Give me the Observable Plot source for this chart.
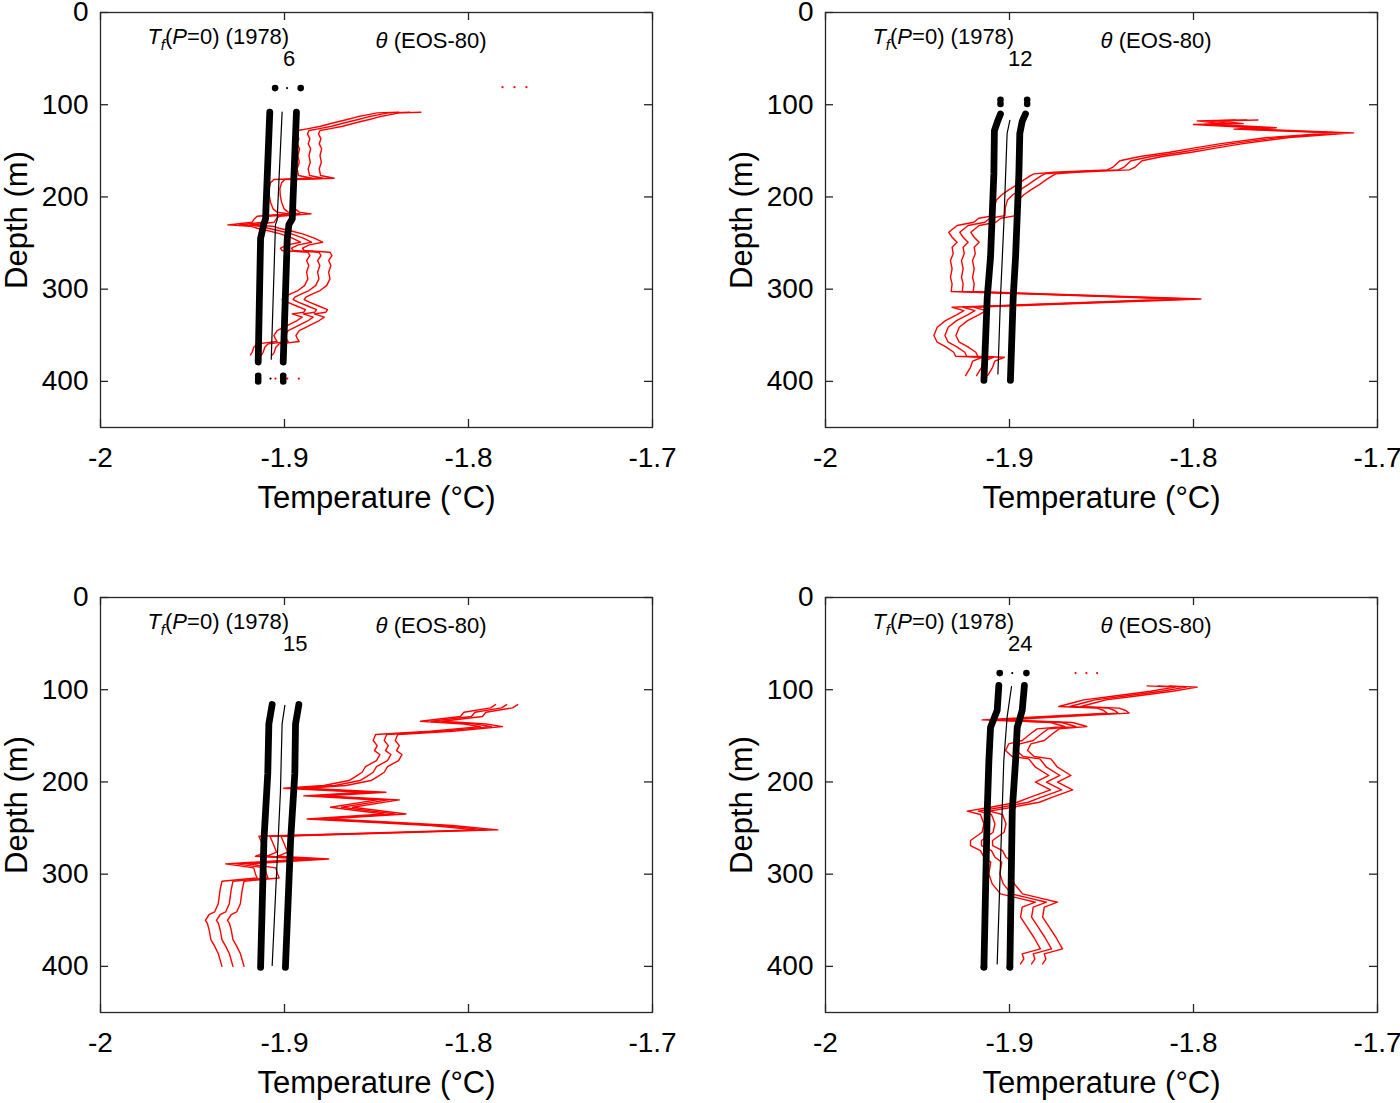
<!DOCTYPE html>
<html>
<head>
<meta charset="utf-8">
<script src="https://cdn.jsdelivr.net/npm/d3@7"></script>
<script src="https://cdn.jsdelivr.net/npm/@observablehq/plot@0.6"></script>
<style>
  body { margin: 0; background: #fff; }
  #wrap { position: relative; width: 1400px; height: 1103px; overflow: hidden; background: #fff;
          font-family: "Liberation Sans", Arial, sans-serif; }
  .panel { position: absolute; }
  .panel svg { max-width: none !important; display: block; }
</style>
</head>
<body>
<div id="wrap"></div>
<script>
// ---------- axis ticks ----------
const xTicks = [-2, -1.9, -1.8, -1.7];
const yTicks = [0, 100, 200, 300, 400];
const panelLabels = ["6", "12", "15", "24"];

// offsets between the three red θ copies (°C)
const thetaOffsets = [0, 0.006, 0.012];

// ---------- panel 6 ----------  [depth (m), temperature (°C)]
const theta6 = [
  [108.1,-1.8379],[108.8,-1.8496],[111.0,-1.8551],[113.1,-1.8605],[116.0,-1.8659],[119.6,-1.8732],
  [123.3,-1.8804],[126.2,-1.8877],[128.0,-1.8927],[131.6,-1.8935],[137.0,-1.8922],[142.4,-1.8931],
  [147.8,-1.8918],[155.1,-1.8927],[162.3,-1.8920],[169.5,-1.8931],[176.8,-1.8924],[179.7,-1.8850],
  [181.1,-1.9058],[184.7,-1.9076],[191.2,-1.9085],[198.5,-1.9083],[205.7,-1.9076],[212.9,-1.9062],
  [216.5,-1.9040],[218.3,-1.8976],[220.9,-1.9149],[224.5,-1.9167],[227.4,-1.9176],[230.3,-1.9308],
  [231.7,-1.9185],[233.9,-1.9149],[236.4,-1.9094],[240.0,-1.9022],[244.7,-1.8958],[249.1,-1.8913],
  [252.0,-1.8985],[255.6,-1.9022],[258.1,-1.9013],[259.9,-1.8873],[263.5,-1.8862],[269.0,-1.8880],
  [274.4,-1.8868],[281.6,-1.8880],[288.8,-1.8873],[296.1,-1.8891],[301.5,-1.8927],[305.1,-1.8967],
  [308.7,-1.9004],[311.3,-1.9013],[314.1,-1.8985],[318.5,-1.8931],[322.1,-1.8886],[325.0,-1.8895],
  [326.8,-1.8958],[330.4,-1.8904],[334.0,-1.8931],[337.6,-1.8967],[341.3,-1.9004],[344.9,-1.9040],
  [350.3,-1.9058],[353.9,-1.9049],[356.8,-1.9040],[359.3,-1.9149],[363.0,-1.9167],[368.4,-1.9176],
  [371.3,-1.9185]
];
const tfLeft6  = [[108,-1.9080],[224,-1.9103],[229,-1.9112],[245,-1.9130],[379,-1.9143]];
const tfRight6 = [[108,-1.8935],[224,-1.8958],[230,-1.8976],[245,-1.8985],[379,-1.9007]];
const tfMid6   = [[108,-1.9013],[225,-1.9040],[230,-1.9049],[376,-1.9072]];
const bigDots6   = [[82,-1.9051],[82,-1.8912],[394,-1.9143],[397,-1.9143],[400,-1.9143],[394,-1.9007],[397,-1.9007],[400,-1.9007]];
const smallDots6 = [[82,-1.8986],[397,-1.9076]];
const redDots6   = [[81,-1.7815],[81,-1.7750],[81,-1.7685],[397,-1.9049],[397,-1.8985],[397,-1.8922]];

// ---------- panel 12 ----------
const theta12 = [
  [116.5,-1.7770],[117.5,-1.7980],[120.5,-1.7850],[121.5,-1.8000],[125.0,-1.7670],[126.5,-1.7780],
  [130.5,-1.7250],[135.6,-1.7600],[142.4,-1.7860],[147.0,-1.8000],[151.5,-1.8130],[156.2,-1.8290],
  [160.8,-1.8400],[168.0,-1.8440],[170.6,-1.8469],[173.2,-1.8759],[175.0,-1.8868],[176.8,-1.8886],
  [181.5,-1.8922],[186.6,-1.8958],[192.3,-1.9004],[197.4,-1.9040],[203.2,-1.9071],[211.1,-1.9082],
  [220.2,-1.9085],[223.1,-1.9167],[227.4,-1.9194],[231.0,-1.9285],[238.3,-1.9330],[243.7,-1.9312],
  [249.1,-1.9285],[254.5,-1.9312],[261.7,-1.9306],[269.0,-1.9321],[278.0,-1.9312],[287.1,-1.9321],
  [294.3,-1.9312],[302.6,-1.9317],[310.6,-1.8080],[319.6,-1.9312],[323.2,-1.9248],[327.6,-1.9285],
  [334.1,-1.9348],[341.3,-1.9393],[350.3,-1.9411],[357.5,-1.9393],[362.3,-1.9348],[368.4,-1.9303],
  [372.7,-1.9293],[373.8,-1.9148],[378.0,-1.9200],[384.7,-1.9212],[393.7,-1.9239]
];
const tfLeft12  = [[110,-1.9049],[117,-1.9063],[128,-1.9082],[175,-1.9085],[265,-1.9103],[309,-1.9121],[399,-1.9139]];
const tfRight12 = [[110,-1.8913],[118,-1.8931],[131,-1.8944],[175,-1.8949],[265,-1.8967],[309,-1.8980],[399,-1.8995]];
const tfMid12   = [[117,-1.8998],[131,-1.9013],[230,-1.9031],[309,-1.9049],[392,-1.9063]];
const bigDots12   = [[94.7,-1.9049],[99.1,-1.9049],[94.7,-1.8904],[99.1,-1.8904]];
const smallDots12 = [];
const redDots12   = [];

// ---------- panel 15 ----------
const theta15 = [
  [116.1,-1.7853],[119.7,-1.7880],[124.4,-1.8025],[129.1,-1.8044],[134.2,-1.8261],[137.1,-1.8025],
  [140.0,-1.7935],[145.0,-1.8207],[148.6,-1.8505],[155.1,-1.8518],[160.6,-1.8496],[166.0,-1.8511],
  [170.3,-1.8482],[176.8,-1.8500],[183.3,-1.8560],[189.5,-1.8578],[194.2,-1.8614],[198.5,-1.8650],
  [203.9,-1.8786],[206.8,-1.9004],[211.2,-1.8569],[215.1,-1.8895],[219.5,-1.8496],[227.4,-1.8750],
  [234.7,-1.8460],[240.1,-1.8877],[243.7,-1.8533],[247.3,-1.8207],[252.0,-1.7960],[258.9,-1.9139],
  [267.2,-1.9121],[276.2,-1.9103],[280.6,-1.9158],[283.5,-1.8880],[288.9,-1.9320],[293.2,-1.9167],
  [299.7,-1.9158],[304.1,-1.9149],[307.7,-1.9340],[317.0,-1.9350],[332.0,-1.9360],[341.0,-1.9380],
  [344.0,-1.9410],[350.0,-1.9430],[353.0,-1.9420],[360.0,-1.9410],[371.0,-1.9400],[378.0,-1.9380],
  [386.0,-1.9360],[400.0,-1.9340]
];
const tfLeft15  = [[116,-1.9067],[137,-1.9085],[191,-1.9091],[264,-1.9112],[401,-1.9130]];
const tfRight15 = [[116,-1.8922],[137,-1.8940],[191,-1.8944],[264,-1.8967],[401,-1.8995]];
const tfMid15   = [[117,-1.8998],[137,-1.9013],[210,-1.9022],[399,-1.9067]];
const bigDots15   = [];
const smallDots15 = [];
const redDots15   = [];

// ---------- panel 24 ----------
const theta24 = [
  [95.8,-1.8252],[97.2,-1.8100],[101.6,-1.8234],[107.3,-1.8451],[111.0,-1.8596],[113.9,-1.8650],
  [118.2,-1.8732],[120.0,-1.8524],[122.5,-1.8488],[125.4,-1.8470],[132.7,-1.9149],[135.5,-1.8777],
  [139.9,-1.8700],[142.4,-1.8850],[147.8,-1.8886],[155.1,-1.8931],[158.7,-1.9004],[165.9,-1.9022],
  [172.4,-1.8986],[175.0,-1.8895],[184.0,-1.8859],[193.0,-1.8786],[200.3,-1.8859],[208.6,-1.8777],
  [216.5,-1.8886],[222.0,-1.8958],[227.4,-1.9103],[231.7,-1.9230],[235.3,-1.9158],[245.4,-1.9139],
  [254.5,-1.9149],[263.5,-1.9212],[269.0,-1.9212],[274.4,-1.9158],[281.6,-1.9139],[287.0,-1.9102],
  [299.7,-1.9112],[310.5,-1.9094],[321.4,-1.9049],[325.7,-1.8958],[330.4,-1.8859],[335.8,-1.8931],
  [346.7,-1.8940],[357.5,-1.8904],[368.4,-1.8868],[381.0,-1.8832],[386.5,-1.8931],[391.9,-1.8922],
  [397.3,-1.8940]
];
const tfLeft24  = [[95.4,-1.9058],[122.5,-1.9067],[140.6,-1.9103],[176.8,-1.9112],[231,-1.9121],[400.9,-1.9139]];
const tfRight24 = [[95.4,-1.8919],[122.5,-1.8931],[140.6,-1.8958],[176.8,-1.8967],[231,-1.8985],[400.9,-1.8998]];
const tfMid24   = [[96.5,-1.8989],[129.8,-1.9013],[176.8,-1.9031],[397.3,-1.9067]];
const bigDots24   = [[82,-1.9053],[82,-1.8908],[401,-1.9139],[401,-1.8998]];
const smallDots24 = [[82,-1.8985]];
const redDots24   = [[82,-1.8641],[82,-1.8582],[82,-1.8524]];

// ---------- layout ----------
const panels = [
  {label: panelLabels[0], left: 0,   top: 0,   theta: theta6,  tfL: tfLeft6,  tfR: tfRight6,  tfM: tfMid6,  big: bigDots6,  small: smallDots6,  red: redDots6},
  {label: panelLabels[1], left: 725, top: 0,   theta: theta12, tfL: tfLeft12, tfR: tfRight12, tfM: tfMid12, big: bigDots12, small: smallDots12, red: redDots12},
  {label: panelLabels[2], left: 0,   top: 585, theta: theta15, tfL: tfLeft15, tfR: tfRight15, tfM: tfMid15, big: bigDots15, small: smallDots15, red: redDots15},
  {label: panelLabels[3], left: 725, top: 585, theta: theta24, tfL: tfLeft24, tfR: tfRight24, tfM: tfMid24, big: bigDots24, small: smallDots24, red: redDots24}
];

const FONT = '"Liberation Sans", Arial, Helvetica, sans-serif';
const AX = "#262626";
const X = d => d[1], Y = d => d[0];

function makePanel(p) {
  const W = 675, H = 518, mL = 100, mR = 23, mT = 12, mB = 91;
  const pw = W - mL - mR, ph = H - mT - mB, tl = 8;
  const red = [];
  thetaOffsets.forEach((o, k) => p.theta.forEach(([d, t]) => red.push({copy: k, depth: d, temp: t + o})));

  const svg = Plot.plot({
    width: W, height: H, marginLeft: mL, marginRight: mR, marginTop: mT, marginBottom: mB,
    style: {fontFamily: FONT, fontSize: "28px", color: "#000", background: "#fff", overflow: "visible", maxWidth: "none"},
    x: {domain: [-2, -1.7], ticks: xTicks, tickSize: 0, tickPadding: 20, tickFormat: d => String(d), label: null},
    y: {domain: [0, 450], reverse: true, ticks: yTicks, tickSize: 0, tickPadding: 12, tickFormat: d => String(d), label: null},
    marks: [
      Plot.line(red, {x: "temp", y: "depth", z: "copy", stroke: "#ff0000", strokeWidth: 1.4}),
      Plot.dot(p.red, {x: X, y: Y, r: 1.1, fill: "#ff0000", stroke: null}),
      Plot.line(p.tfM, {x: X, y: Y, stroke: "#000", strokeWidth: 1.2}),
      Plot.line(p.tfL, {x: X, y: Y, stroke: "#000", strokeWidth: 6.8, strokeLinecap: "round", strokeLinejoin: "round"}),
      Plot.line(p.tfR, {x: X, y: Y, stroke: "#000", strokeWidth: 6.8, strokeLinecap: "round", strokeLinejoin: "round"}),
      Plot.dot(p.big, {x: X, y: Y, r: 3.3, fill: "#000", stroke: null}),
      Plot.dot(p.small, {x: X, y: Y, r: 1.1, fill: "#000", stroke: null}),
      Plot.frame({stroke: AX, strokeWidth: 1.3}),
      Plot.tickX(xTicks, {x: d => d, stroke: AX, strokeWidth: 1.3, insetTop: ph - tl}),
      Plot.tickX(xTicks, {x: d => d, stroke: AX, strokeWidth: 1.3, insetBottom: ph - tl}),
      Plot.tickY(yTicks, {y: d => d, stroke: AX, strokeWidth: 1.3, insetRight: pw - tl}),
      Plot.tickY(yTicks, {y: d => d, stroke: AX, strokeWidth: 1.3, insetLeft: pw - tl}),
      Plot.text(["Tf(P=0) (1978)"], {x: -1.9745, y: 26, text: d => d, textAnchor: "start", fontSize: 22, fill: "#000", className: "tflab"}),
      Plot.text(["θ (EOS-80)"], {x: -1.8505, y: 31, text: d => d, textAnchor: "start", fontSize: 22, fill: "#000", className: "thlab"}),
      Plot.text([p.label], {x: -1.9008, y: 50, text: d => d, textAnchor: "start", fontSize: 22, fill: "#000"}),
      Plot.text(["Temperature (°C)"], {frameAnchor: "bottom", dy: 71, text: d => d, textAnchor: "middle", lineAnchor: "middle", fontSize: 31, fill: "#000"}),
      Plot.text(["Depth (m)"], {frameAnchor: "left", dx: -83, rotate: -90, text: d => d, textAnchor: "middle", lineAnchor: "middle", fontSize: 31, fill: "#000"})
    ]
  });

  // rich text: italic T with subscript f, italic P; italic θ
  svg.querySelectorAll("g.tflab text").forEach(el => {
    el.textContent = "";
    el.innerHTML = '<tspan font-style="italic">T</tspan><tspan font-style="italic" font-size="15" dy="6">f</tspan>' +
                   '<tspan dy="-6">(</tspan><tspan font-style="italic">P</tspan><tspan>=0) (1978)</tspan>';
  });
  svg.querySelectorAll("g.thlab text").forEach(el => {
    el.textContent = "";
    el.innerHTML = '<tspan font-style="italic">θ</tspan><tspan> (EOS-80)</tspan>';
  });

  const div = document.createElement("div");
  div.className = "panel";
  div.style.left = p.left + "px";
  div.style.top = p.top + "px";
  div.style.width = W + "px";
  div.appendChild(svg);
  document.getElementById("wrap").appendChild(div);
}

panels.forEach(makePanel);
</script>
</body>
</html>
